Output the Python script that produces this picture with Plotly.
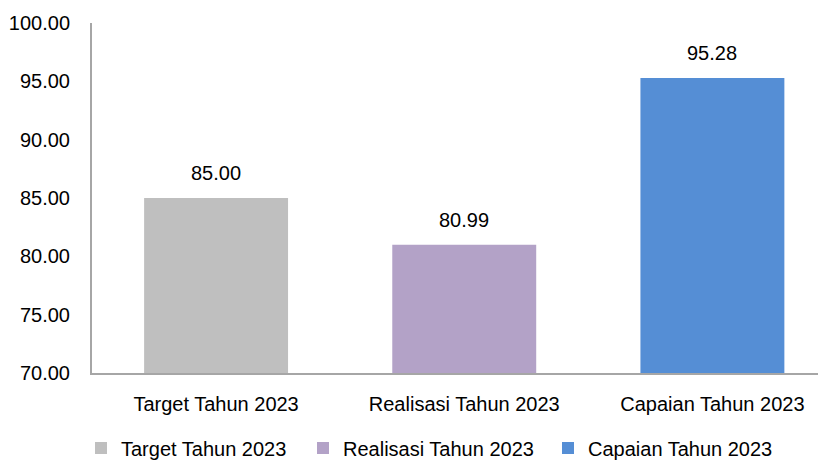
import plotly.graph_objects as go

categories = ["Target Tahun 2023", "Realisasi Tahun 2023", "Capaian Tahun 2023"]
values = [85.00, 80.99, 95.28]
colors = ["#BFBFBF", "#B3A2C7", "#558ED5"]
y_ticks = [70, 75, 80, 85, 90, 95, 100]

FONT = "Liberation Sans, Arial, sans-serif"
FS = 20

legend_ids = ["legend", "legend2", "legend3"]
legend_x_px = [73, 295, 540]

fig = go.Figure()
for cat, val, col, lid in zip(categories, values, colors, legend_ids):
    fig.add_trace(go.Bar(
        x=[cat], y=[val], name=cat, marker=dict(color=col, line=dict(width=0)),
        width=0.58, legend=lid,
    ))
    fig.add_annotation(x=cat, y=val, text=f"{val:.2f}", showarrow=False,
                       yshift=25, font=dict(family=FONT, size=FS, color="#000000"))

layout_legends = {}
for lid, px in zip(legend_ids, legend_x_px):
    layout_legends[lid] = dict(
        orientation="h", xref="container", yref="container",
        x=px / 826, xanchor="left", y=0.0497, yanchor="middle",
        font=dict(family=FONT, size=FS), itemwidth=30,
        bgcolor="rgba(0,0,0,0)",
    )

fig.update_layout(
    width=826, height=463,
    margin=dict(l=84, r=0, t=15, b=98, autoexpand=False),
    barmode="overlay",
    plot_bgcolor="white", paper_bgcolor="white",
    font=dict(family=FONT, size=FS, color="#000000"),
    showlegend=True,
    **layout_legends,
)
fig.update_xaxes(
    type="category", range=[-0.5, 2.49], automargin=False,
    showline=True, linecolor="#A6A6A6", linewidth=2,
    showgrid=False, ticks="", tickfont=dict(family=FONT, size=FS),
    ticklabelstandoff=12,
)
fig.update_yaxes(
    range=[70, 100], tickvals=y_ticks, tickformat=".2f", automargin=False,
    showline=True, linecolor="#A6A6A6", linewidth=2,
    showgrid=False, zeroline=False, ticks="",
    tickfont=dict(family=FONT, size=FS), ticklabelstandoff=16,
)

fig.write_html("out.html")
